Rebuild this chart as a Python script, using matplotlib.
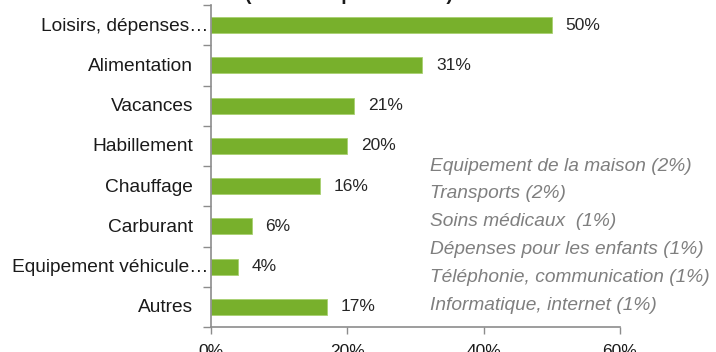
import matplotlib
matplotlib.use("Agg")
import matplotlib.pyplot as plt
import matplotlib.transforms as mtransforms

plt.rcParams['font.family'] = ['Liberation Sans', 'DejaVu Sans']

categories = ["Loisirs, dépenses…", "Alimentation", "Vacances", "Habillement",
              "Chauffage", "Carburant", "Equipement véhicule…", "Autres"]
values = [50, 31, 21, 20, 16, 6, 4, 17]
others = ["Equipement de la maison (2%)", "Transports (2%)", "Soins médicaux  (1%)",
          "Dépenses pour les enfants (1%)", "Téléphonie, communication (1%)",
          "Informatique, internet (1%)"]
title = "(Les deux plus lourds)"

green = "#78B02C"
axcol = "#8C8C8C"

fig = plt.figure(figsize=(7.16, 3.52), dpi=100)
ax = fig.add_axes([0.2947, 0.071, 0.5712, 0.9148])

n = len(categories)
ypos = list(range(n))
ax.barh(ypos, values, height=0.4, color=green, edgecolor="#A8D070", linewidth=0.6)
ax.set_ylim(n - 0.5, -0.5)
ax.set_xlim(0, 60)

for y, v in zip(ypos, values):
    ax.text(v + 2.0, y, "%d%%" % v, va="center", ha="left", fontsize=12.5, color="#262626")

# y axis: ticks at band boundaries, category labels drawn as texts
ax.set_yticks([i - 0.5 for i in range(n + 1)])
ax.set_yticklabels([])
ax.tick_params(axis="y", length=6, width=1, color=axcol, direction="out")

ytrans = ax.get_yaxis_transform()
for y, c in zip(ypos, categories):
    # truncated labels overflow to the right like in the original
    shift = -3 if c.endswith("…") else -18
    tr = mtransforms.offset_copy(ytrans, fig=fig, x=shift, y=-1, units="dots")
    ax.text(0, y, c, transform=tr, ha="right", va="center", fontsize=13.8,
            color="#1a1a1a", clip_on=False)

ax.set_xticks([0, 20, 40, 60])
ax.set_xticklabels(["0%", "20%", "40%", "60%"], fontsize=12.5, color="#1a1a1a")
ax.tick_params(axis="x", length=5, width=1, color=axcol, pad=7)

for s in ["top", "right"]:
    ax.spines[s].set_visible(False)
for s in ["left", "bottom"]:
    ax.spines[s].set_color(axcol)
    ax.spines[s].set_linewidth(1.2)

# list of smaller categories on the right
for i, t in enumerate(others):
    fig.text(430 / 716, 1 - (166 + i * 27.8) / 352, t, ha="left", va="center",
             fontsize=13.8, style="italic", color="#7F7F7F")

fig.text(349 / 716, 1 - (-4) / 352, title, ha="center", va="center",
         fontsize=14, fontweight="bold", color="#1a1a1a")

fig.savefig("out.png", dpi=100)
